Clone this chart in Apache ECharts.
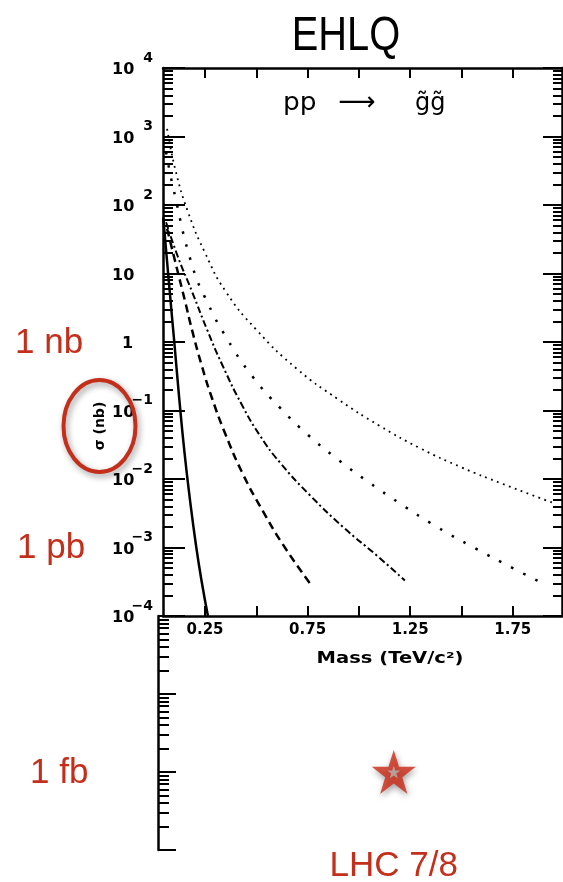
<!DOCTYPE html>
<html><head><meta charset="utf-8">
<script src="https://cdn.jsdelivr.net/npm/echarts@6/dist/echarts.min.js"></script>
<style>html,body{margin:0;padding:0;background:#fff}#c{width:563px;height:882px}</style>
</head><body><div id="c"></div>
<script>
// ---- data (mass in TeV/c^2, sigma in nb) ----
const massTicks = [0.25, 0.5, 0.75, 1.0, 1.25, 1.5, 1.75];
const massLabels = [0.25, 0.75, 1.25, 1.75];
const sigmaDecades = [1e-4, 1e-3, 1e-2, 1e-1, 1, 10, 1e2, 1e3, 1e4];
const lowerDecades = [1e-7, 1e-6, 1e-5, 1e-4];
const minorSteps = [2, 3, 4, 5, 6, 7, 8, 9];

const curveSolid = [[0.046, 66], [0.060, 22], [0.080, 4.6], [0.100, 1.0], [0.125, 0.141], [0.150, 0.024], [0.175, 5.4e-3], [0.206, 1.07e-3], [0.235, 3.0e-4], [0.264, 1.0e-4]];
const curveDashed = [[0.065, 45], [0.104, 15.1], [0.152, 4.0], [0.187, 1.48], [0.235, 0.44], [0.284, 0.151], [0.347, 0.047], [0.435, 0.0117], [0.532, 3.4e-3], [0.630, 1.10e-3], [0.761, 3.0e-4]];
const curveDashDot = [[0.060, 56], [0.118, 17.4], [0.187, 5.4], [0.260, 1.51], [0.333, 0.47], [0.430, 0.120], [0.520, 0.042], [0.615, 0.0174], [0.761, 5.8e-3], [0.922, 2.0e-3], [1.088, 7.6e-4], [1.224, 3.3e-4]];
const curveDotSparse = [[0.060, 590], [0.094, 182], [0.187, 13.2], [0.265, 3.6], [0.357, 1.12], [0.479, 0.32], [0.615, 0.110], [0.752, 0.044], [0.900, 0.019], [1.050, 8.9e-3], [1.200, 4.4e-3], [1.380, 2.0e-3], [1.565, 9.8e-4], [1.750, 5.0e-4], [1.877, 3.2e-4]];
const curveDotFine = [[0.065, 1290], [0.105, 330], [0.167, 79], [0.250, 20], [0.350, 5.5], [0.500, 1.51], [0.700, 0.40], [0.900, 0.145], [1.100, 0.060], [1.300, 0.028], [1.500, 0.0148], [1.700, 8.5e-3], [1.945, 4.5e-3]];
const lhcPoint = [[1.17, 1.0e-6]];
const unitMarks = [['1 nb', 1, 'upper', 15], ['1 pb', 1e-3, 'upper', 17], ['1 fb', 1e-6, 'lower', 30]];

const RED = '#c42f1c';
const FONT = '"DejaVu Sans", sans-serif';

function minorValues(decades) {
  const out = [];
  for (let i = 0; i < decades.length - 1; i++) {
    for (const k of minorSteps) out.push(decades[i] * k);
  }
  return out;
}

function supLabel(v) {
  const e = Math.round(Math.log10(v));
  if (e === 0) return '{one|1}';
  if (e === 1) return '{b|10}';
  return '{b|10}{s|' + (e < 0 ? '\u2212' : '') + Math.abs(e) + '}';
}

const axisLineStyle = { color: '#000', width: 2.5 };
const tickStyle = { color: '#000', width: 2 };

function logAxis(gridIndex, position, min, max, ticks, len, showLine, label) {
  return {
    type: 'log', logBase: 10, gridIndex, position, min, max,
    axisLine: { show: showLine, onZero: false, lineStyle: axisLineStyle },
    axisTick: { show: true, inside: true, length: len, customValues: ticks, lineStyle: tickStyle },
    axisLabel: label || { show: false },
    splitLine: { show: false }, minorTick: { show: false }
  };
}

const mainYLabel = {
  show: true, customValues: sigmaDecades, formatter: supLabel,
  align: 'left', margin: 51, padding: [0, 0, 7, 0], color: '#000',
  rich: {
    b: { fontSize: 16, fontWeight: 'bold', fontFamily: FONT, color: '#000', lineHeight: 27, verticalAlign: 'bottom', width: 21 },
    s: { fontSize: 14, fontWeight: 'bold', fontFamily: FONT, color: '#000', lineHeight: 27, verticalAlign: 'top', width: 20, align: 'right' },
    one: { fontSize: 16, fontWeight: 'bold', fontFamily: FONT, color: '#000', lineHeight: 27, verticalAlign: 'bottom', padding: [0, 0, 0, 10] }
  }
};

function lineSeries(data, width, type) {
  return {
    type: 'line', xAxisIndex: 0, yAxisIndex: 0, data,
    showSymbol: false, symbol: 'none', smooth: 0.5,
    lineStyle: { color: '#000', width, type }, z: 3
  };
}

const STAR = 'path://M50,0 L61.8,35.1 L98.9,35.1 L69,56.9 L80.3,91.9 L50,70.2 L19.7,91.9 L31,56.9 L1.1,35.1 L38.2,35.1 Z';

const option = {
  animation: false,
  backgroundColor: '#fff',
  grid: [
    { left: 163, top: 68, width: 399, height: 548, outerBoundsMode: 'none', containLabel: false },
    { left: 158, top: 616, width: 404, height: 234, outerBoundsMode: 'none', containLabel: false }
  ],
  xAxis: [
    {
      type: 'value', gridIndex: 0, position: 'bottom', min: 0.045, max: 1.99,
      axisLine: { show: true, onZero: false, lineStyle: axisLineStyle },
      axisTick: { show: true, inside: true, length: 10, customValues: massTicks, lineStyle: tickStyle },
      axisLabel: { show: true, customValues: massLabels, formatter: v => v.toFixed(2), margin: 7,
        fontSize: 15, fontWeight: 'bold', fontFamily: FONT, color: '#000' },
      splitLine: { show: false }
    },
    {
      type: 'value', gridIndex: 0, position: 'top', min: 0.045, max: 1.99,
      axisLine: { show: true, onZero: false, lineStyle: axisLineStyle },
      axisTick: { show: true, inside: true, length: 10, customValues: massTicks, lineStyle: tickStyle },
      axisLabel: { show: false }, splitLine: { show: false }
    },
    { type: 'value', gridIndex: 1, min: 0.021, max: 1.99, show: false }
  ],
  yAxis: [
    logAxis(0, 'left', 1e-4, 1e4, sigmaDecades, 22, true, mainYLabel),
    logAxis(0, 'left', 1e-4, 1e4, minorValues(sigmaDecades), 10, false),
    logAxis(0, 'right', 1e-4, 1e4, sigmaDecades, 19, true),
    logAxis(0, 'right', 1e-4, 1e4, minorValues(sigmaDecades), 9, false),
    logAxis(1, 'left', 1e-7, 1e-4, lowerDecades, 18, true),
    logAxis(1, 'left', 1e-7, 1e-4, minorValues(lowerDecades), 11, false)
  ],
  series: [
    lineSeries(curveSolid, 2.5, 'solid'),
    lineSeries(curveDashed, 2.5, [8, 5]),
    lineSeries(curveDashDot, 2, [7, 3, 2, 3]),
    lineSeries(curveDotSparse, 2.5, [2.5, 11]),
    lineSeries(curveDotFine, 1.8, [1.8, 4.5]),
    {
      type: 'scatter', xAxisIndex: 2, yAxisIndex: 4, data: lhcPoint,
      symbol: STAR, symbolSize: [44, 44], z: 5,
      itemStyle: { color: '#cc2a16', shadowBlur: 6, shadowColor: 'rgba(0,0,0,0.45)', shadowOffsetX: 1, shadowOffsetY: 3 }
    },
    {
      type: 'scatter', xAxisIndex: 2, yAxisIndex: 4, data: lhcPoint,
      symbol: STAR, symbolSize: [13, 13], z: 6,
      itemStyle: { color: '#b4b4b4' }
    }
  ]
};

const chart = echarts.init(document.getElementById('c'), null, { renderer: 'canvas' });
chart.setOption(option);

function txt(text, x, y, font, fill, align, extra) {
  return Object.assign({
    type: 'text', x, y, z: 10,
    style: { text, font, fill, align, textAlign: align, verticalAlign: 'middle', textVerticalAlign: 'middle' }
  }, extra || {});
}

const g = [];
g.push(txt('EHLQ', 346, 37, '48px "Liberation Sans", sans-serif', '#000', 'center', { scaleX: 0.83 }));
g.push(txt('pp', 283, 104, '24px ' + FONT, '#000', 'left', { scaleX: 1.1 }));
g.push(txt('\u27F6', 357, 103, '26px ' + FONT, '#000', 'center'));
g.push(txt('g\u0303g\u0303', 415, 104, '24px ' + FONT, '#000', 'left'));
g.push(txt('Mass (TeV/c\u00B2)', 390, 659, 'bold 16px ' + FONT, '#000', 'center', { scaleX: 1.22 }));
g.push(txt('\u03C3 (nb)', 100, 426, 'bold 14px ' + FONT, '#000', 'center', { rotation: Math.PI / 2 }));
g.push({
  type: 'ellipse', z: 11,
  shape: { cx: 99.5, cy: 426, rx: 36, ry: 46 },
  style: { fill: 'none', stroke: RED, lineWidth: 4, shadowBlur: 6, shadowColor: 'rgba(0,0,0,0.4)', shadowOffsetX: 2, shadowOffsetY: 3 }
});
for (const [label, val, which, x] of unitMarks) {
  const y = chart.convertToPixel({ yAxisIndex: which === 'upper' ? 0 : 4 }, val);
  g.push(txt(label, x, y + 1, '35px "Liberation Sans", sans-serif', RED, 'left'));
}
const starX = chart.convertToPixel({ xAxisIndex: 2 }, lhcPoint[0][0]);
g.push(txt('LHC 7/8', starX, 866, '35px "Liberation Sans", sans-serif', RED, 'center'));
chart.setOption({ graphic: g });
</script>
</body></html>
